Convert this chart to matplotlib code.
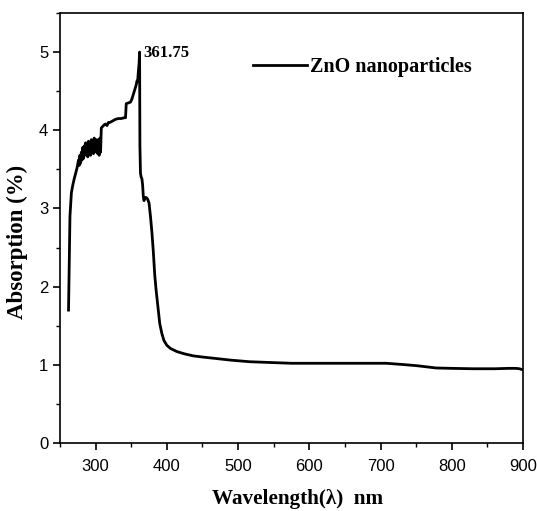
import numpy as np
import matplotlib.pyplot as plt
from matplotlib.ticker import MultipleLocator

# UV-Vis absorption spectrum
wavelength = [262, 263, 264, 266, 268, 270, 272, 274, 276, 277, 278, 279, 280, 281,
              282, 283, 284, 285, 286, 287, 288, 289, 290, 291, 292, 293, 294, 295,
              296, 297, 298, 299, 300, 301, 302, 303, 304, 305, 306, 307, 308, 310,
              312, 314, 316, 318, 320, 324, 328, 332, 336, 340, 342, 343, 346, 349,
              351, 353, 355, 357, 358, 359, 360, 361, 361.75, 362.2, 363, 364, 365,
              366, 367, 368, 369, 371, 373, 375, 377, 379, 381, 383, 385, 388, 390,
              393, 396, 400, 405, 414, 425, 437, 450, 470, 490, 516, 545, 575, 620,
              660, 708, 730, 750, 778, 800, 830, 860, 880, 890, 895, 900]
absorption = [1.70, 2.30, 2.90, 3.20, 3.30, 3.38, 3.45, 3.52, 3.62, 3.55, 3.68, 3.58,
              3.72, 3.62, 3.78, 3.64, 3.80, 3.68, 3.84, 3.70, 3.82, 3.66, 3.86, 3.72,
              3.84, 3.68, 3.88, 3.74, 3.86, 3.70, 3.90, 3.78, 3.86, 3.72, 3.88, 3.70,
              3.80, 3.68, 3.90, 3.72, 4.03, 4.05, 4.07, 4.08, 4.06, 4.10, 4.10, 4.12,
              4.14, 4.15, 4.15, 4.16, 4.16, 4.34, 4.35, 4.36, 4.40, 4.46, 4.52, 4.58,
              4.63, 4.62, 4.75, 4.85, 5.00, 3.80, 3.45, 3.40, 3.38, 3.30, 3.15, 3.10,
              3.14, 3.14, 3.12, 3.07, 2.90, 2.70, 2.45, 2.15, 1.95, 1.70, 1.53, 1.40,
              1.31, 1.25, 1.21, 1.17, 1.14, 1.115, 1.10, 1.08, 1.06, 1.04, 1.03, 1.02,
              1.02, 1.02, 1.02, 1.005, 0.99, 0.96, 0.955, 0.95, 0.95, 0.955, 0.955,
              0.95, 0.935]
peak_wl = 361.75

serif = ['Liberation Serif', 'DejaVu Serif']
sans = ['Liberation Sans', 'DejaVu Sans']

fig = plt.figure(figsize=(5.37, 5.11), dpi=100)
ax = fig.add_axes([0.1117, 0.133, 0.8623, 0.8416])

ax.plot(wavelength, absorption, color='black', linewidth=2.0, label='ZnO nanoparticles')

ax.set_xlim(250, 900)
ax.set_ylim(0, 5.5)
ax.xaxis.set_major_locator(MultipleLocator(100))
ax.xaxis.set_minor_locator(MultipleLocator(50))
ax.yaxis.set_major_locator(MultipleLocator(1))
ax.yaxis.set_minor_locator(MultipleLocator(0.5))
ax.tick_params(which='major', direction='out', length=5, width=1.2, labelsize=12)
ax.tick_params(axis='x', which='major', pad=6.5)
ax.tick_params(which='minor', direction='out', length=3, width=1.0)
for lab in ax.get_xticklabels() + ax.get_yticklabels():
    lab.set_family(sans)
for sp in ax.spines.values():
    sp.set_linewidth(1.2)

ax.set_xlabel('Wavelength(λ)  nm', fontsize=15.2, fontweight='bold', family=serif)
ax.set_ylabel('Absorption (%)', fontsize=16.5, fontweight='bold', family=serif)
# label positions (axes fraction) matched to the original figure
ax.xaxis.set_label_coords(0.512, -0.106)
ax.yaxis.set_label_coords(-0.069, 0.468)

ax.annotate(f'{peak_wl:.2f}', xy=(peak_wl, max(absorption)), xytext=(3, -1),
            textcoords='offset points', fontsize=12, fontweight='bold', family=serif,
            va='center', ha='left')

leg = ax.legend(loc='center left', bbox_to_anchor=(0.4164, 0.874), frameon=False,
                borderpad=0, borderaxespad=0,
                handlelength=2.7, handletextpad=0.15,
                prop={'family': serif, 'weight': 'bold', 'size': 14.5})

fig.savefig('out.png', dpi=100)
